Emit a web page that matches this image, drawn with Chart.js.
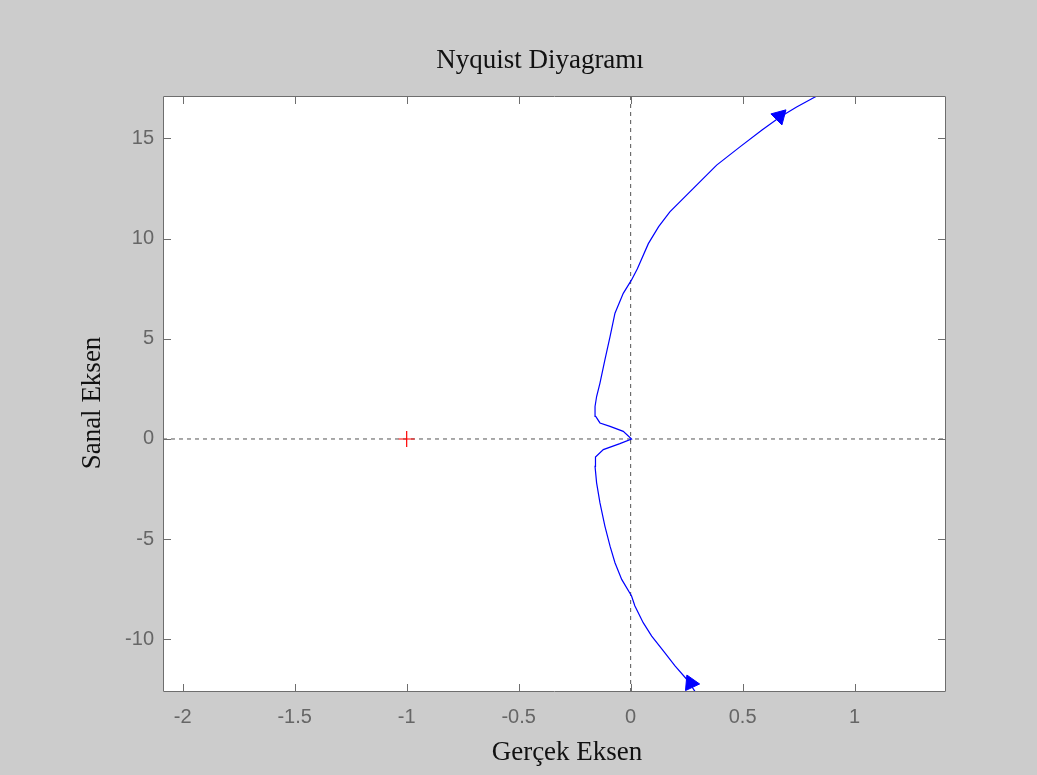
<!DOCTYPE html>
<html>
<head>
<meta charset="utf-8">
<script src="https://cdn.jsdelivr.net/npm/chart.js@4/dist/chart.umd.min.js"></script>
<style>
  html, body { margin: 0; padding: 0; background: #cccccc; }
  #wrap { width: 1037px; height: 775px; }
</style>
</head>
<body>
<div id="wrap"><canvas id="nyq" width="1037" height="775"></canvas></div>
<script>
// Nyquist egrisi (okunan degerler), alttan baslayip orijinden yukari
const reVals = [0.295, 0.257, 0.198, 0.146, 0.094, 0.056, 0.019, 0.004, -0.040, -0.070, -0.092, -0.115, -0.137, -0.152, -0.159, -0.157, -0.122, -0.048, 0.004,
  -0.033, -0.092, -0.137, -0.156, -0.159, -0.152, -0.137, -0.115, -0.092, -0.070, -0.033, 0.004, 0.030, 0.079, 0.125, 0.175, 0.280, 0.384, 0.488, 0.585, 0.667, 0.741, 0.823, 0.870];
const imVals = [-12.74, -12.08, -11.33, -10.58, -9.84, -9.17, -8.34, -7.84, -7.01, -6.18, -5.35, -4.35, -3.19, -2.19, -1.37, -0.90, -0.53, -0.23, 0,
  0.38, 0.63, 0.80, 1.13, 1.62, 2.12, 2.79, 3.95, 5.11, 6.28, 7.27, 7.94, 8.50, 9.75, 10.60, 11.34, 12.51, 13.67, 14.58, 15.41, 16.07, 16.57, 17.07, 17.35];

const arrowRe = [0.665, 0.268];
const arrowIm = [16.11, -12.19];
const arrowRot = [165, 95];

const critRe = [-1];
const critIm = [0];

const xLim = [-2.088, 1.408];
const yLim = [-12.63, 17.12];
const xTicks = [-2, -1.5, -1, -0.5, 0, 0.5, 1];
const yTicks = [-10, -5, 0, 5, 10, 15];

const titleText = 'Nyquist Diyagramı';
const xTitle = 'Gerçek Eksen';
const yTitle = 'Sanal Eksen';

const curve = reVals.map((r, i) => ({ x: r, y: imVals[i] }));
const arrows = arrowRe.map((r, i) => ({ x: r, y: arrowIm[i] }));
const crit = critRe.map((r, i) => ({ x: r, y: critIm[i] }));

const frame = {
  id: 'frame',
  beforeDraw(chart) {
    const { ctx, chartArea: a } = chart;
    ctx.save();
    ctx.fillStyle = '#cccccc';
    ctx.fillRect(0, 0, chart.width, chart.height);
    ctx.fillStyle = '#ffffff';
    ctx.fillRect(a.left, a.top, a.right - a.left, a.bottom - a.top);
    ctx.restore();
  },
  afterDraw(chart) {
    const { ctx, chartArea: a, scales } = chart;
    ctx.save();
    ctx.strokeStyle = '#6e6e6e';
    ctx.lineWidth = 1;
    ctx.beginPath();
    ctx.rect(a.left + 0.5, a.top + 0.5, a.right - a.left - 1, a.bottom - a.top - 1);
    xTicks.forEach(v => {
      const px = Math.round(scales.x.getPixelForValue(v)) + 0.5;
      ctx.moveTo(px, a.bottom); ctx.lineTo(px, a.bottom - 8);
      ctx.moveTo(px, a.top); ctx.lineTo(px, a.top + 8);
    });
    yTicks.forEach(v => {
      const py = Math.round(scales.y.getPixelForValue(v)) + 0.5;
      ctx.moveTo(a.left, py); ctx.lineTo(a.left + 8, py);
      ctx.moveTo(a.right, py); ctx.lineTo(a.right - 8, py);
    });
    ctx.stroke();

    ctx.fillStyle = '#111111';
    ctx.font = '27px "Liberation Serif", "Times New Roman", serif';
    ctx.textAlign = 'center';
    ctx.textBaseline = 'alphabetic';
    ctx.fillText(titleText, 540, 68);
    ctx.fillText(xTitle, 567, 760);
    ctx.translate(100, 403);
    ctx.rotate(-Math.PI / 2);
    ctx.fillText(yTitle, 0, 0);
    ctx.restore();
  }
};

new Chart(document.getElementById('nyq'), {
  type: 'scatter',
  data: {
    datasets: [
      {
        data: [{ x: xLim[0], y: 0 }, { x: xLim[1], y: 0 }],
        showLine: true, borderColor: '#555555', borderWidth: 1, borderDash: [4, 4],
        pointRadius: 0, order: 5
      },
      {
        data: [{ x: 0, y: yLim[0] }, { x: 0, y: yLim[1] }],
        showLine: true, borderColor: '#555555', borderWidth: 1, borderDash: [4, 4],
        pointRadius: 0, order: 4
      },
      {
        data: curve,
        showLine: true, borderColor: '#0000ff', borderWidth: 1.2,
        pointRadius: 0, tension: 0, order: 3
      },
      {
        data: arrows,
        showLine: false, pointStyle: 'triangle', pointRadius: 9,
        rotation: arrowRot,
        backgroundColor: '#0000ff', borderColor: '#0000ff', borderWidth: 1, order: 2
      },
      {
        data: crit,
        showLine: false, pointStyle: 'cross', pointRadius: 8,
        borderColor: '#ff0000', borderWidth: 1.2, order: 1
      }
    ]
  },
  options: {
    responsive: false,
    animation: false,
    events: [],
    layout: { padding: { left: 0, top: 96, right: 91, bottom: 0 } },
    plugins: { legend: { display: false }, tooltip: { enabled: false }, title: { display: false } },
    scales: {
      x: {
        type: 'linear', min: xLim[0], max: xLim[1],
        grid: { display: false }, border: { display: false },
        afterBuildTicks: s => { s.ticks = xTicks.map(v => ({ value: v })); },
        afterFit: s => { s.height = 83; },
        ticks: {
          callback: v => String(v), color: '#666666', padding: 5, maxRotation: 0, autoSkip: false,
          font: { family: '"Liberation Sans", Arial, sans-serif', size: 20 }
        }
      },
      y: {
        type: 'linear', min: yLim[0], max: yLim[1],
        grid: { display: false }, border: { display: false },
        afterBuildTicks: s => { s.ticks = yTicks.map(v => ({ value: v })); },
        afterFit: s => { s.width = 163; },
        ticks: {
          callback: v => String(v), color: '#666666', padding: 1, autoSkip: false,
          font: { family: '"Liberation Sans", Arial, sans-serif', size: 20 }
        }
      }
    }
  },
  plugins: [frame]
});
</script>
</body>
</html>
